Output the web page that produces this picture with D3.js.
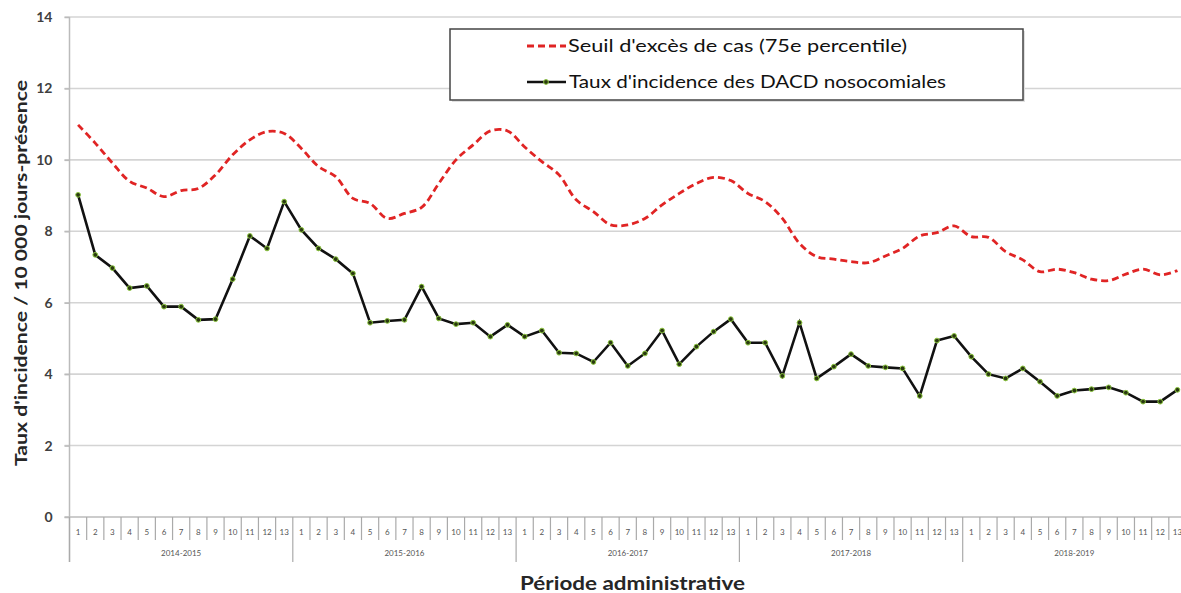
<!DOCTYPE html>
<html><head><meta charset="utf-8">
<script src="https://cdn.jsdelivr.net/npm/d3@7"></script>
<style>body{margin:0;background:#fff}svg{display:block}text{font-family:Lato,"Open Sans",sans-serif}</style>
</head><body><svg id="c" width="1181" height="593"></svg>
<script>
const years = ["2014-2015","2015-2016","2016-2017","2017-2018","2018-2019"];
const periods = ["1","2","3","4","5","6","7","8","9","10","11","12","13"];
const incidence = [9.02,7.34,6.97,6.41,6.47,5.89,5.89,5.52,5.54,6.66,7.87,7.52,8.83,
  8.04,7.52,7.22,6.82,5.44,5.49,5.52,6.45,5.56,5.40,5.44,5.05,5.38,
  5.05,5.22,4.60,4.58,4.34,4.88,4.23,4.58,5.22,4.28,4.77,5.19,5.54,
  4.88,4.88,3.95,5.44,3.88,4.21,4.56,4.23,4.19,4.16,3.39,4.94,5.07,
  4.49,4.00,3.88,4.16,3.79,3.39,3.54,3.58,3.63,3.48,3.23,3.23,3.56];
const seuil = [10.98,10.47,9.91,9.40,9.21,8.97,9.14,9.20,9.58,10.14,10.56,10.79,10.74,
  10.32,9.81,9.53,8.92,8.78,8.36,8.50,8.67,9.34,10.00,10.42,10.81,10.81,
  10.36,9.95,9.58,8.88,8.55,8.18,8.18,8.36,8.74,9.06,9.34,9.51,9.42,
  9.06,8.83,8.36,7.66,7.29,7.22,7.15,7.12,7.31,7.52,7.87,7.96,8.15,
  7.85,7.83,7.43,7.20,6.87,6.94,6.84,6.66,6.62,6.80,6.94,6.78,6.90];
const yTicks = [0,2,4,6,8,10,12,14];

(function(){
const cats = [];
years.forEach(yr => periods.forEach(p => cats.push(yr + "|" + p)));

const svg = d3.select("#c");
const L = 69.5, R = 1186, T = 17, B = 517;
const x = d3.scaleBand().domain(cats).range([L, R]).padding(0);
const y = d3.scaleLinear().domain([0, 14]).range([B, T]);
const cx = i => x(cats[i]) + x.bandwidth() / 2;

// gridlines
svg.append("g").selectAll("line").data(yTicks.filter(t => t > 0)).join("line")
  .attr("x1", L - 5).attr("x2", 1181).attr("y1", d => y(d)).attr("y2", d => y(d))
  .attr("stroke", "#d4d4d4").attr("stroke-width", 1.6);

// y axis
const ya = svg.append("g").attr("transform", `translate(${L},0)`)
  .call(d3.axisLeft(y).tickValues(yTicks).tickSize(5).tickPadding(12).tickFormat(d3.format("d")));
ya.select(".domain").remove();
ya.selectAll(".tick line").attr("stroke", "#bbb").attr("stroke-width", 1.5);
ya.selectAll(".tick text").attr("font-size", 14).attr("fill", "#404040").attr("font-weight", "bold");
svg.append("line").attr("x1", L).attr("x2", L).attr("y1", T).attr("y2", 562)
  .attr("stroke", "#bbb").attr("stroke-width", 1.5);

// x axis
svg.append("line").attr("x1", L - 5).attr("x2", 1181).attr("y1", B).attr("y2", B)
  .attr("stroke", "#bbb").attr("stroke-width", 1.6);
const xa = svg.append("g");
xa.selectAll("line.sep").data(cats).join("line").attr("class", "sep")
  .attr("x1", d => x(d)).attr("x2", d => x(d)).attr("y1", B)
  .attr("y2", (d, i) => i % 13 === 0 ? 562 : 540)
  .attr("stroke", "#aaa").attr("stroke-width", 1.2);
xa.selectAll("text.per").data(cats).join("text").attr("class", "per")
  .attr("x", (d, i) => cx(i)).attr("y", 535).attr("text-anchor", "middle")
  .attr("font-size", 8).attr("fill", "#555").text(d => d.split("|")[1]);
xa.selectAll("text.yr").data(years).join("text").attr("class", "yr")
  .attr("x", d => x(d + "|1") + 13 * x.bandwidth() / 2).attr("y", 556)
  .attr("text-anchor", "middle").attr("font-size", 8).attr("fill", "#555").text(d => d);

// axis titles
svg.append("text").attr("x", 520).attr("y", 590)
  .attr("font-size", 18).attr("font-weight", "bold").attr("fill", "#262626")
  .attr("textLength", 225).attr("lengthAdjust", "spacingAndGlyphs").text("Période administrative");
svg.append("text").attr("transform", "translate(27,466) rotate(-90)")
  .attr("font-size", 17).attr("font-weight", "bold").attr("fill", "#262626")
  .attr("textLength", 386).attr("lengthAdjust", "spacingAndGlyphs")
  .text("Taux d'incidence / 10 000 jours-présence");

// seuil line
svg.append("path").datum(seuil)
  .attr("d", d3.line().x((d, i) => cx(i)).y(d => y(d)).curve(d3.curveCatmullRom.alpha(0.5)))
  .attr("fill", "none").attr("stroke", "#e02424").attr("stroke-width", 2.8).attr("stroke-dasharray", "7,4");

// incidence line
svg.append("path").datum(incidence).attr("d", d3.line().x((d, i) => cx(i)).y(d => y(d)))
  .attr("fill", "none").attr("stroke", "#111").attr("stroke-width", 2.6);
svg.append("g").selectAll("circle").data(incidence).join("circle")
  .attr("cx", (d, i) => cx(i)).attr("cy", d => y(d)).attr("r", 2.4)
  .attr("fill", "#2a3a10").attr("stroke", "#8cc63f").attr("stroke-width", 1);

// legend
const lg = svg.append("g");
lg.append("rect").attr("x", 452).attr("y", 31).attr("width", 573).attr("height", 71).attr("fill", "#e0e0e0");
lg.append("rect").attr("x", 450).attr("y", 29).attr("width", 573).attr("height", 71)
  .attr("fill", "#fff").attr("stroke", "#444").attr("stroke-width", 1.5);
lg.append("line").attr("x1", 527).attr("x2", 566).attr("y1", 46).attr("y2", 46)
  .attr("stroke", "#e02424").attr("stroke-width", 2.8).attr("stroke-dasharray", "7,4");
lg.append("text").attr("x", 568).attr("y", 52).attr("font-size", 18).attr("fill", "#111")
  .attr("textLength", 339).attr("lengthAdjust", "spacingAndGlyphs")
  .text("Seuil d'excès de cas (75e percentile)");
lg.append("line").attr("x1", 527).attr("x2", 566).attr("y1", 82).attr("y2", 82)
  .attr("stroke", "#111").attr("stroke-width", 2.6);
lg.append("circle").attr("cx", 546).attr("cy", 82).attr("r", 2.4)
  .attr("fill", "#2a3a10").attr("stroke", "#8cc63f").attr("stroke-width", 1);
lg.append("text").attr("x", 569).attr("y", 88).attr("font-size", 18).attr("fill", "#111")
  .attr("textLength", 377).attr("lengthAdjust", "spacingAndGlyphs")
  .text("Taux d'incidence des DACD nosocomiales");
})();
</script></body></html>
